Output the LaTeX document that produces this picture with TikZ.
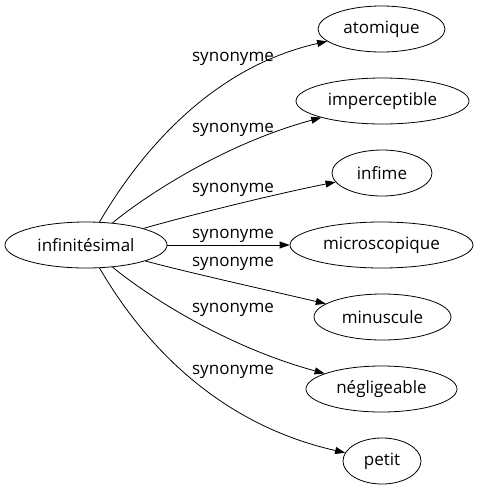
\documentclass[tikz,border=0pt]{standalone}
\usepackage{fontspec}
\setmainfont{Open Sans}
\usetikzlibrary{arrows.meta,shapes.geometric}
\tikzset{
  word/.style={ellipse,draw,line width=0.8pt,inner sep=0pt,minimum height=46pt,font=\fontsize{17}{20}\selectfont},
  lbl/.style={font=\fontsize{17}{20}\selectfont,inner sep=0pt},
  edge/.style={line width=0.8pt,-{Triangle[length=10pt,width=7pt]}}
}
\begin{document}
\begin{tikzpicture}[x=1pt,y=-1pt]
\useasboundingbox (0,0) rectangle (478,491);
\node[word,minimum width=162pt] (c) at (86,245) {infinitésimal};
\node[word,minimum width=127pt] (a) at (381.5,29) {atomique};
\node[word,minimum width=173pt] (b) at (382.5,101) {imperceptible};
\node[word,minimum width=100pt] (d) at (382,173) {infime};
\node[word,minimum width=183pt] (e) at (381.5,245) {microscopique};
\node[word,minimum width=137pt] (f) at (382.5,317) {minuscule};
\node[word,minimum width=151pt] (g) at (381.5,389) {négligeable};
\node[word,minimum width=78pt] (h) at (382,461) {petit};

\draw[edge] (c) .. controls (130,170) and (200,70) .. (a);
\draw[edge] (c) .. controls (140,200) and (220,145) .. (b);
\draw[edge] (c) .. controls (190,215) and (280,193) .. (d);
\draw[edge] (c) -- (e);
\draw[edge] (c) .. controls (190,273) and (280,293) .. (f);
\draw[edge] (c) .. controls (140,290) and (220,345) .. (g);
\draw[edge] (c) .. controls (130,320) and (200,420) .. (h);

\node[lbl] (l1) at (233,59) {synonyme};
\node[lbl] (l2) at (233,130) {synonyme};
\node[lbl] (l3) at (233,190) {synonyme};
\node[lbl] (l4) at (233,236) {synonyme};
\node[lbl] (l5) at (233,264) {synonyme};
\node[lbl] (l6) at (233,310) {synonyme};
\node[lbl] (l7) at (233,372) {synonyme};
\end{tikzpicture}
\end{document}
